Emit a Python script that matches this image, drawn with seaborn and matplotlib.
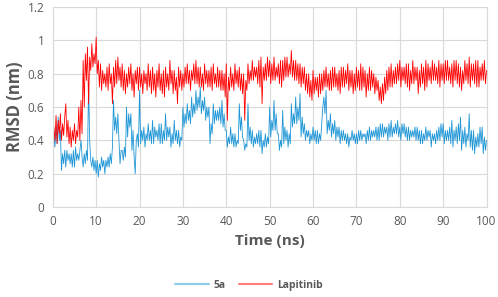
import numpy as np
import pandas as pd
import matplotlib
matplotlib.use("Agg")
import matplotlib.pyplot as plt
import seaborn as sns

# tempo in ns, un valore ogni 0.25 ns
tempo = np.linspace(0, 100, 401)

# RMSD Lapitinib (nm) (4 valori per ns)
lapitinib = [
    0.00, 0.48, 0.40, 0.55,  0.38, 0.52, 0.44, 0.56,  0.40, 0.50, 0.43, 0.54,
    0.62, 0.42, 0.52, 0.38,  0.48, 0.36, 0.46, 0.40,  0.50, 0.38, 0.46, 0.42,
    0.60, 0.40, 0.64, 0.44,  0.88, 0.60, 0.92, 0.76,  0.96, 0.62, 0.90, 0.82,
    0.98, 0.84, 0.92, 0.86,  1.02, 0.80, 0.88, 0.72,  0.86, 0.70, 0.82, 0.74,
    0.80, 0.72, 0.84, 0.70,  0.86, 0.74, 0.80, 0.62,  0.84, 0.72, 0.88, 0.74,
    0.90, 0.76, 0.84, 0.72,  0.86, 0.70, 0.82, 0.68,  0.80, 0.72, 0.84, 0.74,
    0.86, 0.70, 0.80, 0.66,  0.82, 0.74, 0.84, 0.70,  0.84, 0.72, 0.80, 0.68,
    0.82, 0.74, 0.80, 0.70,  0.86, 0.72, 0.82, 0.68,  0.84, 0.70, 0.80, 0.66,
    0.82, 0.72, 0.86, 0.70,  0.80, 0.68, 0.82, 0.66,  0.84, 0.72, 0.80, 0.70,
    0.88, 0.74, 0.82, 0.68,  0.82, 0.70, 0.78, 0.62,  0.84, 0.72, 0.82, 0.70,
    0.80, 0.72, 0.84, 0.74,  0.86, 0.74, 0.82, 0.70,  0.82, 0.76, 0.86, 0.74,
    0.88, 0.74, 0.84, 0.72,  0.84, 0.72, 0.80, 0.70,  0.86, 0.74, 0.82, 0.72,
    0.82, 0.72, 0.84, 0.70,  0.86, 0.74, 0.80, 0.72,  0.84, 0.72, 0.82, 0.70,
    0.82, 0.70, 0.80, 0.66,  0.86, 0.52, 0.78, 0.70,  0.84, 0.72, 0.80, 0.70,
    0.86, 0.74, 0.82, 0.72,  0.84, 0.70, 0.80, 0.68,  0.80, 0.52, 0.76, 0.70,
    0.86, 0.74, 0.82, 0.76,  0.88, 0.76, 0.84, 0.78,  0.84, 0.74, 0.88, 0.72,
    0.90, 0.62, 0.84, 0.76,  0.86, 0.76, 0.90, 0.78,  0.88, 0.74, 0.86, 0.76,
    0.90, 0.76, 0.84, 0.78,  0.86, 0.74, 0.88, 0.72,  0.88, 0.76, 0.90, 0.78,
    0.90, 0.78, 0.86, 0.80,  0.94, 0.78, 0.88, 0.76,  0.88, 0.76, 0.86, 0.74,
    0.86, 0.72, 0.84, 0.74,  0.84, 0.70, 0.80, 0.68,  0.80, 0.66, 0.76, 0.64,
    0.82, 0.68, 0.78, 0.70,  0.78, 0.66, 0.80, 0.68,  0.80, 0.70, 0.82, 0.72,
    0.84, 0.72, 0.80, 0.70,  0.82, 0.70, 0.84, 0.72,  0.84, 0.72, 0.80, 0.70,
    0.82, 0.68, 0.84, 0.72,  0.84, 0.72, 0.82, 0.74,  0.86, 0.70, 0.82, 0.72,
    0.82, 0.68, 0.80, 0.70,  0.84, 0.72, 0.82, 0.70,  0.86, 0.70, 0.84, 0.72,
    0.82, 0.66, 0.80, 0.70,  0.84, 0.70, 0.82, 0.72,  0.80, 0.68, 0.78, 0.70,
    0.76, 0.64, 0.72, 0.62,  0.74, 0.64, 0.78, 0.68,  0.82, 0.70, 0.84, 0.72,
    0.86, 0.72, 0.82, 0.74,  0.84, 0.74, 0.86, 0.76,  0.88, 0.72, 0.84, 0.76,
    0.84, 0.74, 0.86, 0.72,  0.86, 0.70, 0.82, 0.74,  0.88, 0.74, 0.84, 0.76,
    0.84, 0.68, 0.82, 0.72,  0.86, 0.74, 0.84, 0.70,  0.88, 0.72, 0.86, 0.76,
    0.84, 0.74, 0.88, 0.76,  0.86, 0.76, 0.84, 0.74,  0.88, 0.72, 0.86, 0.76,
    0.86, 0.74, 0.88, 0.76,  0.88, 0.76, 0.84, 0.74,  0.86, 0.72, 0.88, 0.76,
    0.88, 0.74, 0.86, 0.72,  0.84, 0.70, 0.82, 0.74,  0.88, 0.76, 0.86, 0.74,
    0.90, 0.72, 0.86, 0.76,  0.86, 0.74, 0.88, 0.72,  0.88, 0.72, 0.84, 0.76,
    0.86, 0.76, 0.88, 0.74,
    0.82,
]

# RMSD 5a (nm)
rmsd_5a = [
    0.30, 0.42, 0.36, 0.48,  0.38, 0.54, 0.40, 0.46,  0.22, 0.32, 0.26, 0.34,
    0.24, 0.34, 0.28, 0.32,  0.26, 0.32, 0.24, 0.34,  0.24, 0.36, 0.28, 0.32,
    0.28, 0.34, 0.40, 0.30,  0.24, 0.32, 0.26, 0.34,  0.28, 0.75, 0.40, 0.28,
    0.24, 0.30, 0.22, 0.28,  0.20, 0.28, 0.18, 0.26,  0.22, 0.30, 0.24, 0.28,
    0.20, 0.28, 0.24, 0.30,  0.24, 0.32, 0.26, 0.36,  0.64, 0.46, 0.54, 0.44,
    0.56, 0.40, 0.26, 0.34,  0.34, 0.28, 0.36, 0.30,  0.60, 0.42, 0.56, 0.48,
    0.56, 0.34, 0.46, 0.30,  0.20, 0.40, 0.44, 0.36,  0.70, 0.38, 0.46, 0.40,
    0.48, 0.36, 0.44, 0.40,  0.50, 0.40, 0.46, 0.38,  0.52, 0.38, 0.48, 0.42,
    0.46, 0.40, 0.50, 0.38,  0.50, 0.38, 0.46, 0.40,  0.56, 0.40, 0.48, 0.42,
    0.48, 0.36, 0.44, 0.38,  0.52, 0.40, 0.46, 0.38,  0.46, 0.36, 0.42, 0.40,
    0.60, 0.48, 0.56, 0.50,  0.62, 0.52, 0.58, 0.50,  0.66, 0.54, 0.62, 0.56,
    0.70, 0.58, 0.66, 0.60,  0.72, 0.56, 0.64, 0.58,  0.66, 0.52, 0.60, 0.54,
    0.60, 0.38, 0.50, 0.44,  0.62, 0.50, 0.58, 0.52,  0.58, 0.52, 0.60, 0.50,
    0.64, 0.48, 0.56, 0.46,  0.46, 0.36, 0.42, 0.38,  0.48, 0.38, 0.44, 0.36,
    0.44, 0.36, 0.40, 0.38,  0.62, 0.46, 0.54, 0.42,  0.40, 0.34, 0.38, 0.36,
    0.62, 0.40, 0.48, 0.38,  0.46, 0.36, 0.42, 0.38,  0.44, 0.38, 0.46, 0.36,
    0.46, 0.32, 0.40, 0.36,  0.44, 0.36, 0.42, 0.38,  0.60, 0.42, 0.52, 0.46,
    0.64, 0.46, 0.56, 0.44,  0.44, 0.34, 0.40, 0.36,  0.58, 0.38, 0.48, 0.40,
    0.46, 0.36, 0.44, 0.38,  0.62, 0.48, 0.56, 0.50,  0.66, 0.50, 0.60, 0.52,
    0.68, 0.42, 0.54, 0.44,  0.50, 0.40, 0.46, 0.42,  0.46, 0.38, 0.44, 0.40,
    0.48, 0.40, 0.46, 0.38,  0.46, 0.38, 0.44, 0.40,  0.50, 0.60, 0.66, 0.56,
    0.70, 0.44, 0.52, 0.46,  0.56, 0.42, 0.50, 0.44,  0.52, 0.40, 0.48, 0.42,
    0.48, 0.38, 0.46, 0.40,  0.46, 0.40, 0.44, 0.38,  0.44, 0.36, 0.42, 0.40,
    0.46, 0.40, 0.44, 0.38,  0.44, 0.38, 0.46, 0.40,  0.46, 0.40, 0.44, 0.42,
    0.44, 0.38, 0.46, 0.40,  0.48, 0.40, 0.46, 0.42,  0.46, 0.42, 0.48, 0.40,
    0.48, 0.40, 0.50, 0.42,  0.50, 0.42, 0.48, 0.44,  0.48, 0.40, 0.50, 0.42,
    0.52, 0.42, 0.48, 0.44,  0.50, 0.44, 0.52, 0.42,  0.48, 0.40, 0.50, 0.44,
    0.50, 0.42, 0.48, 0.40,  0.48, 0.40, 0.46, 0.42,  0.46, 0.42, 0.48, 0.40,
    0.48, 0.40, 0.46, 0.38,  0.46, 0.38, 0.44, 0.40,  0.48, 0.40, 0.46, 0.42,
    0.46, 0.36, 0.44, 0.40,  0.44, 0.38, 0.46, 0.40,  0.48, 0.40, 0.50, 0.42,
    0.50, 0.38, 0.46, 0.40,  0.46, 0.40, 0.48, 0.38,  0.52, 0.36, 0.46, 0.40,
    0.48, 0.38, 0.50, 0.40,  0.54, 0.34, 0.46, 0.38,  0.48, 0.36, 0.44, 0.40,
    0.56, 0.36, 0.46, 0.34,  0.46, 0.32, 0.42, 0.36,  0.44, 0.36, 0.48, 0.38,
    0.48, 0.32, 0.42, 0.34,
    0.40,
]

serie = ["5a", "Lapitinib"]
colori = ["#1f96d6", "#ff0000"]

df = pd.DataFrame({"Tempo": tempo, "5a": rmsd_5a, "Lapitinib": lapitinib})
df = df.melt("Tempo", var_name="Dati", value_name="val")

sns.set_style("white")
plt.rcParams["font.family"] = ["Open Sans", "DejaVu Sans"]

fig, ax = plt.subplots(figsize=(4.98, 2.97), dpi=100)
fig.subplots_adjust(left=0.106, right=0.977, top=0.976, bottom=0.303)

sns.lineplot(x="Tempo", y="val", hue="Dati", data=df, palette=colori,
             hue_order=serie, linewidth=0.6, ax=ax, legend=False)

grigio = "#595959"
ax.set_xlim(0, 100)
ax.set_ylim(0, 1.2)
ax.set_xticks(range(0, 101, 10))
ax.set_yticks(np.arange(0, 1.21, 0.2))
ax.yaxis.set_major_formatter(plt.FuncFormatter(lambda v, p: f"{v:g}"))
ax.grid(True, color="#d9d9d9", linewidth=0.8)
ax.set_axisbelow(True)
for s in ax.spines.values():
    s.set_color("#d9d9d9")
    s.set_linewidth(0.8)
ax.tick_params(colors=grigio, labelsize=8.5, length=0, pad=6)

ax.set_xlabel("Time (ns)", fontsize=11, fontweight="bold", color=grigio, labelpad=4)
ax.set_ylabel("RMSD (nm)", fontsize=12, fontweight="bold", color=grigio, labelpad=3)

handles = [plt.Line2D([], [], color=c, linewidth=1.5, alpha=0.5) for c in colori]
fig.legend(handles, serie, loc="lower center", ncol=2, frameon=False,
           bbox_to_anchor=(0.5, -0.01), prop={"size": 7.5, "weight": "bold"},
           labelcolor=grigio, handlelength=3.2, handletextpad=0.5, columnspacing=1.2)

fig.savefig("out.png", dpi=100)
